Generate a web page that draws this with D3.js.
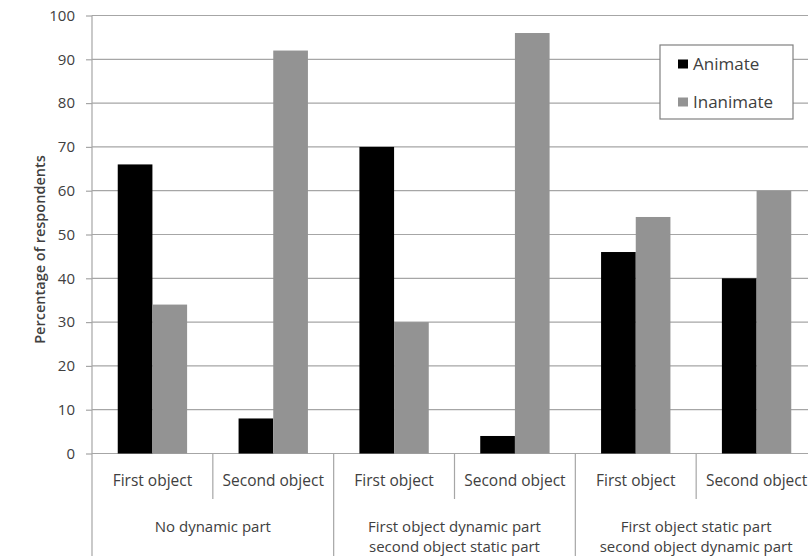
<!DOCTYPE html>
<html><head><meta charset="utf-8">
<script src="https://cdn.jsdelivr.net/npm/d3@7"></script>
<style>body{margin:0;background:#fff}svg{display:block}text{font-family:"Open Sans",sans-serif;fill:#404040}</style>
</head><body><svg id="c" width="808" height="556"></svg>
<script>
const subCategories = ["First object","Second object","First object","Second object","First object","Second object"];
const groups = [["No dynamic part"],["First object dynamic part","second object static part"],["First object static part","second object dynamic part"]];
const seriesNames = ["Animate","Inanimate"];
const animate = [66, 8, 70, 4, 46, 40];
const inanimate = [34, 92, 30, 96, 54, 60];
const yTicks = [0,10,20,30,40,50,60,70,80,90,100];
const colors = ["#000000","#939393"];

const svg = d3.select("#c");
const L = 92, R = 817, T = 15.5, B = 453.5;
const x = d3.scaleBand().domain(d3.range(6)).range([L, R]);
const y = d3.scaleLinear().domain([0,100]).range([B, T]);
const bw = x.bandwidth()*0.287;
const gridColor = "#a6a6a6";

// gridlines
svg.append("g").selectAll("line").data(yTicks.filter(d=>d>0)).join("line")
  .attr("x1", L).attr("x2", R).attr("y1", d=>y(d)).attr("y2", d=>y(d))
  .attr("stroke",gridColor).attr("stroke-width",1.2);

// y axis
const ya = svg.append("g").attr("transform",`translate(${L},0)`).call(d3.axisLeft(y).tickValues(yTicks).tickSize(6).tickPadding(11));
ya.select(".domain").remove();
ya.selectAll(".tick line").attr("stroke",gridColor).attr("stroke-width",1.2);
ya.selectAll(".tick text").style("font-size","15px").style("fill","#404040").style("font-family","'Open Sans',sans-serif");
svg.append("line").attr("x1",L).attr("x2",L).attr("y1",T).attr("y2",556).attr("stroke",gridColor).attr("stroke-width",1.2);
// baseline
svg.append("line").attr("x1",L).attr("x2",R).attr("y1",B).attr("y2",B).attr("stroke",gridColor).attr("stroke-width",1.2);

// bars
const series = [animate, inanimate];
series.forEach((vals, si) => {
  svg.append("g").selectAll("rect").data(vals).join("rect")
    .attr("x", (d,i)=> x(i) + x.bandwidth()/2 - bw + si*bw)
    .attr("width", bw)
    .attr("y", d=>y(d)).attr("height", d=>B - y(d))
    .attr("fill", colors[si]);
});

// category axis
const xb = d3.axisBottom(x).tickFormat(i=>subCategories[i]).tickSize(0);
const xg = svg.append("g").attr("transform",`translate(0,${B})`).call(xb);
xg.select(".domain").remove();
xg.selectAll(".tick text").attr("dy",0).attr("y",32.5).style("font-size","15.5px").style("fill","#404040").style("font-family","'Open Sans',sans-serif");
d3.range(1,6).forEach(i=>{
  const xx = x(i);
  const major = i%2===0;
  svg.append("line").attr("x1",xx).attr("x2",xx).attr("y1",B).attr("y2", major?556:499)
    .attr("stroke",gridColor).attr("stroke-width",1.2);
});
// group labels
groups.forEach((lines,g)=>{
  const cx = x(g*2+1);
  const t = svg.append("text").attr("x",cx).attr("y",532).attr("text-anchor","middle").style("font-size","15px");
  lines.forEach((ln,k)=>t.append("tspan").attr("x",cx).attr("dy",k===0?0:20).text(ln));
});

// y title
svg.append("text").attr("transform",`translate(45,${(T+B)/2+15}) rotate(-90)`).attr("text-anchor","middle")
  .style("font-size","14.5px").style("font-weight","600").text("Percentage of respondents");

// legend
const lg = svg.append("g");
lg.append("rect").attr("x",660).attr("y",45).attr("width",133).attr("height",74).attr("fill","#fff").attr("stroke","#808080").attr("stroke-width",1.2);
seriesNames.forEach((n,i)=>{
  const cy = 64 + i*38;
  lg.append("rect").attr("x",678).attr("y",cy-4.5).attr("width",10).attr("height",9).attr("fill",colors[i]);
  lg.append("text").attr("x",693).attr("y",cy).attr("dy","0.35em").style("font-size","17px").text(n);
});
</script></body></html>
